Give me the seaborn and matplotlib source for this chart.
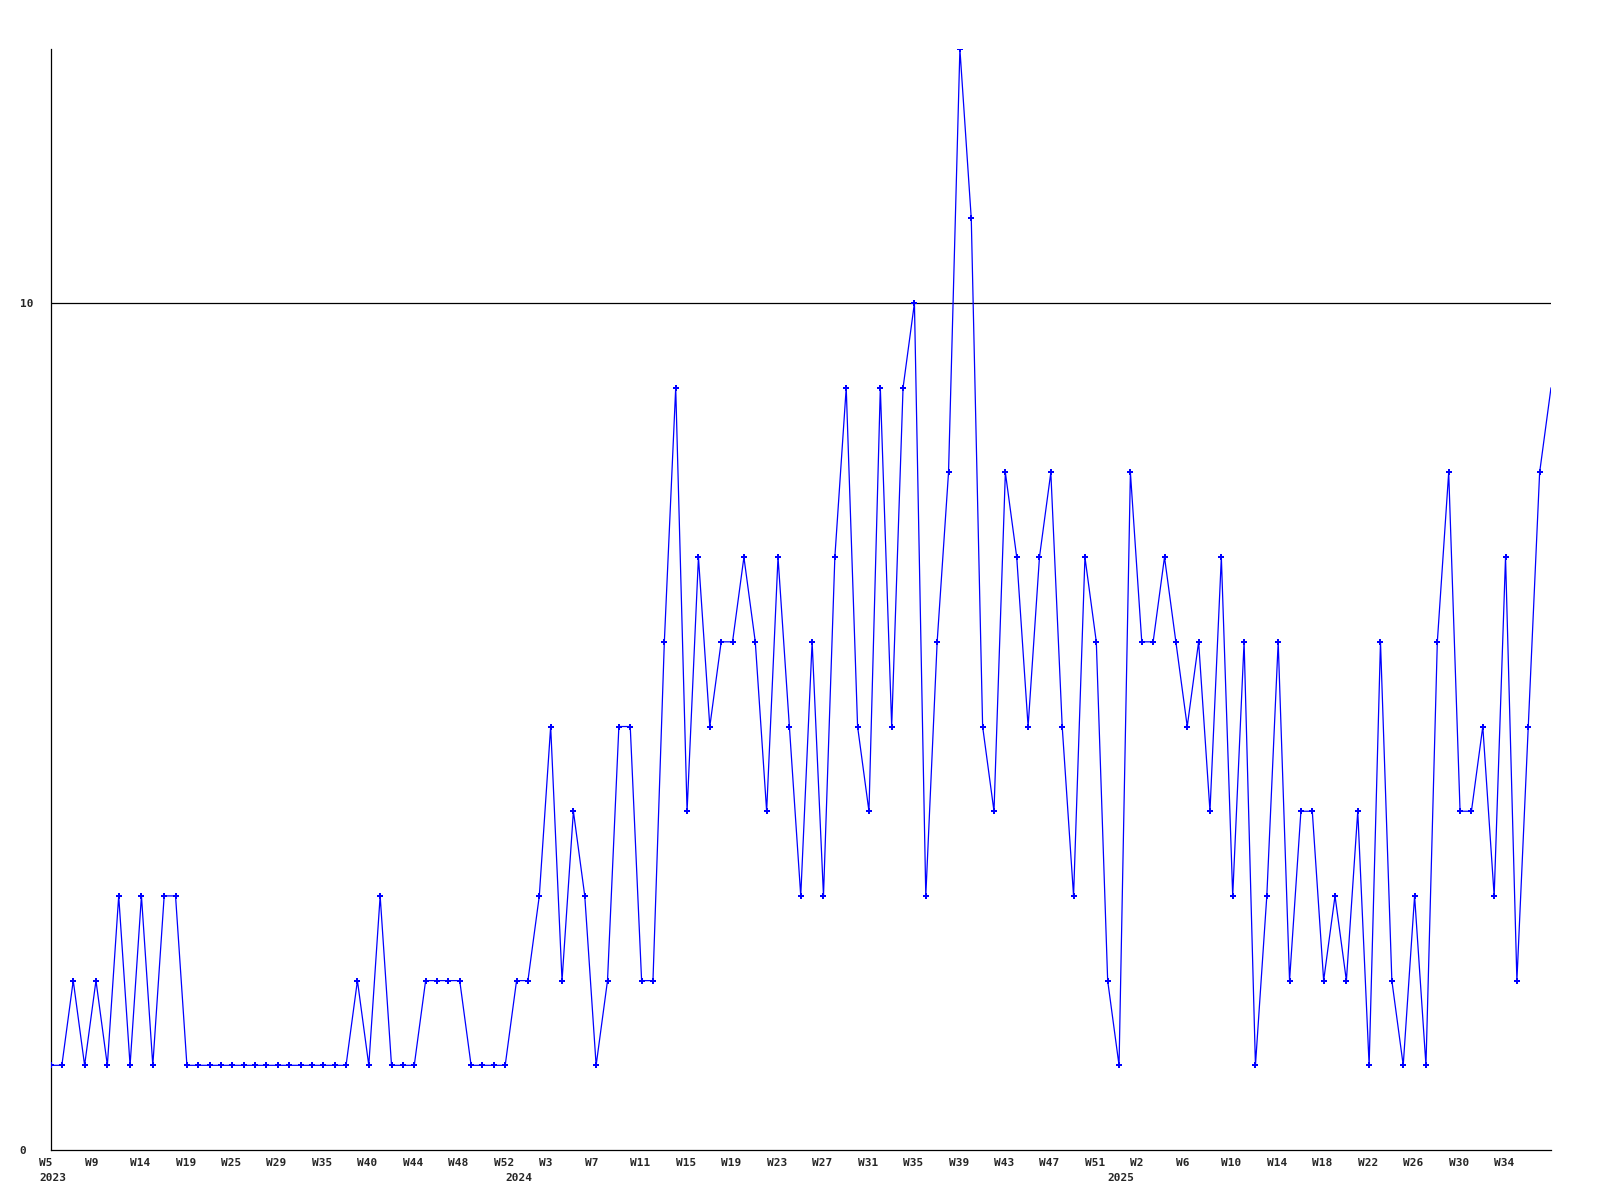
import matplotlib
matplotlib.use("Agg")
import matplotlib.pyplot as plt
import seaborn as sns

# Weekly counts, one point per week
counts = [1, 1, 2, 1, 2, 1, 3, 1, 3, 1, 3, 3, 1,
          1, 1, 1, 1, 1, 1, 1, 1, 1, 1, 1, 1, 1, 1,
          2, 1, 3, 1, 1, 1,
          2, 2, 2, 2, 1, 1, 1, 1,
          2, 2, 3, 5, 2, 4, 3, 1, 2, 5, 5, 2, 2,
          6, 9, 4, 7, 5, 6, 6, 7, 6, 4, 7, 5, 3,
          6, 3, 7, 9, 5, 4, 9, 5, 9, 10, 3, 6, 8,
          13, 11, 5, 4, 8, 7, 5, 7, 8, 5, 3, 7, 6,
          2, 1, 8, 6, 6, 7, 6, 5, 6, 4, 7, 3, 6,
          1, 3, 6, 2, 4, 4, 2, 3, 2, 4, 1, 6, 2,
          1, 3, 1, 6, 8, 4, 4, 5, 3, 7, 2, 5, 8, 9]
week_index = list(range(len(counts)))

# x labels: one every 4 points
week_labels = ["W5", "W9", "W14", "W19", "W25", "W29", "W35", "W40", "W44",
               "W48", "W52", "W3", "W7", "W11", "W15", "W19", "W23", "W27",
               "W31", "W35", "W39", "W43", "W47", "W51", "W2", "W6", "W10",
               "W14", "W18", "W22", "W26", "W30", "W34"]
label_every = 4
year_labels = ["2023", "2024", "2025"]
year_starts = [0, 41, 94]

sns.set_style("white")
plt.rcParams["font.family"] = ["DejaVu Sans Mono", "DejaVu Sans"]

fig = plt.figure(figsize=(16, 12), dpi=100)
ax = fig.add_axes([50.5 / 1600, 1 - 1150 / 1200, 1500.5 / 1600, 1101 / 1200])

# last point sits on the right edge, the original shows no marker there
sns.lineplot(x=week_index, y=counts, ax=ax, color="#0000ff", linewidth=0.9,
             marker="P", markersize=4.5, markeredgewidth=0, zorder=3,
             markevery=list(range(len(counts) - 1)))

ax.axhline(10, color="black", linewidth=0.9, zorder=2)

ax.set_xlim(0, len(counts) - 1)
ax.set_ylim(0, 13)
ax.set_xticks([])
ax.set_yticks([0, 10])
ax.set_yticklabels(["0", "10"], fontsize=8, fontweight="bold")
for lbl in ax.get_yticklabels():
    lbl.set_horizontalalignment("left")
ax.tick_params(axis="y", length=0, pad=22.3)
ax.set_xlabel("")
ax.set_ylabel("")

for side in ["top", "right"]:
    ax.spines[side].set_visible(False)
for side in ["left", "bottom"]:
    ax.spines[side].set_color("black")
    ax.spines[side].set_linewidth(0.9)

# week labels, left-aligned one step before their point
xt = ax.get_xaxis_transform()
for i, lab in enumerate(week_labels):
    ax.text(i * label_every - 1, -0.0075, lab, transform=xt, ha="left",
            va="top", fontsize=8, fontweight="bold", clip_on=False)
for start, yr in zip(year_starts, year_labels):
    ax.text(start - 1, -0.0205, yr, transform=xt, ha="left", va="top",
            fontsize=8, fontweight="bold", clip_on=False)

fig.savefig("out.png", dpi=100)
